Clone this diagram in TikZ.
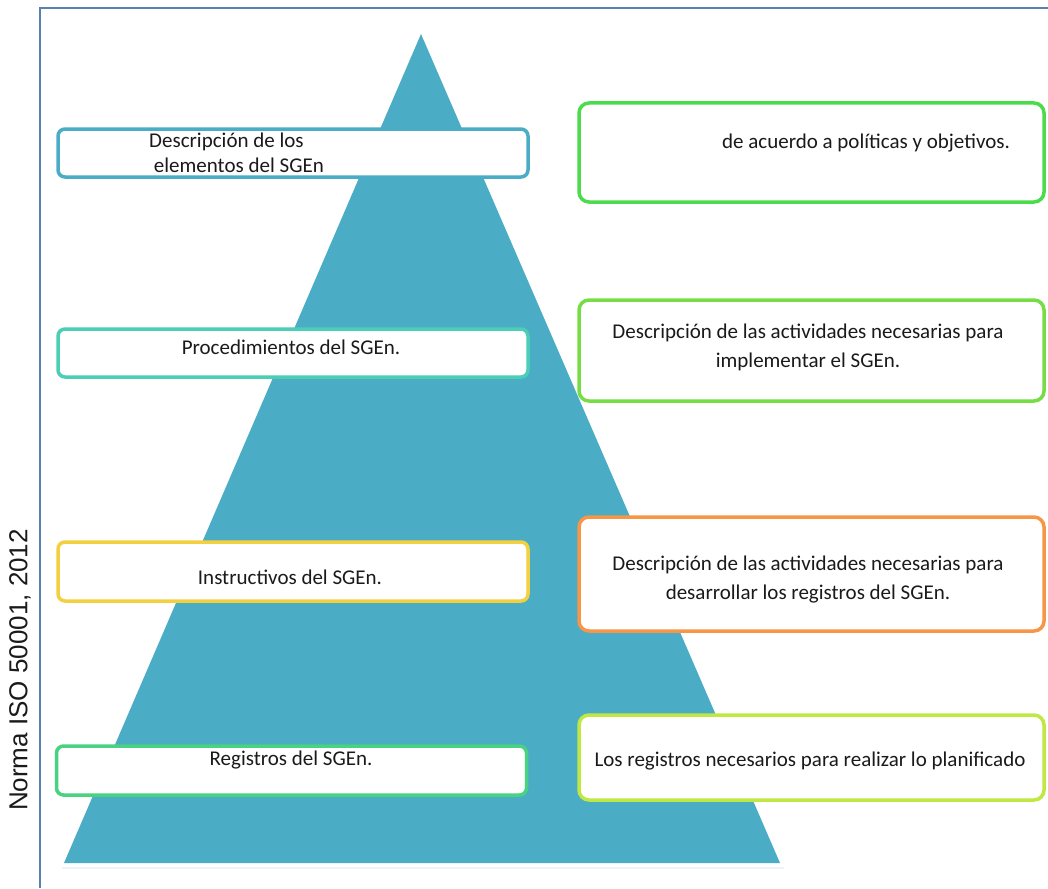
\documentclass[tikz,border=0pt]{standalone}
\usepackage{fontspec}
\setmainfont{Carlito}
\newfontfamily\normafont{Liberation Sans}
\usetikzlibrary{positioning}

\definecolor{triblue}{RGB}{75,172,198}
\definecolor{frameblue}{RGB}{91,127,176}
\definecolor{cBlue}{RGB}{75,172,198}
\definecolor{cTeal}{RGB}{75,205,182}
\definecolor{cYellow}{RGB}{242,208,64}
\definecolor{cGreen}{RGB}{72,210,130}
\definecolor{cGreenA}{RGB}{76,219,76}
\definecolor{cGreenB}{RGB}{119,221,68}
\definecolor{cOrange}{RGB}{247,150,70}
\definecolor{cLime}{RGB}{191,232,67}
\definecolor{txtgray}{RGB}{26,26,26}

\begin{document}
\begin{tikzpicture}[
    x=1pt, y=-1pt,
    lbox/.style={draw, line width=3.5pt, rounded corners=7pt, fill=white, minimum width=470pt, minimum height=48pt, inner sep=0pt},
    rbox/.style={draw, line width=3.5pt, rounded corners=10pt, fill=white, minimum width=465pt, inner sep=0pt},
    txt/.style={text=txtgray, align=center, font=\fontsize{21}{29}\selectfont, inner sep=0pt}
]
    \useasboundingbox (0,0) rectangle (1048,888);

    % frame and pyramid
    \draw[frameblue, line width=1.3pt] (40,888) -- (40,8) -- (1048,8);
    \fill[triblue] (421,34) -- (780,863) -- (64,863) -- cycle;
    \draw[triblue!12, line width=1.5pt] (62,868) -- (784,868);

    % left column
    \node[lbox, draw=cBlue] (elem) at (293,153) {};
    \node[lbox, draw=cTeal] (proc) at (293,353) {};
    \node[lbox, draw=cYellow, minimum height=59pt] (inst) at (293,571.5) {};
    \node[lbox, draw=cGreen, minimum height=49pt] (reg) at (291.5,770.5) {};

    \node[txt, align=left, anchor=west, font=\fontsize{21}{25}\selectfont] (elemtxt) at (149,153) {Descripción de los\\\ elementos del SGEn};
    \node[txt] (proctxt) at (291,347) {Procedimientos del SGEn.};
    \node[txt] (insttxt) at (290,577) {Instructivos del SGEn.};
    \node[txt] (regtxt) at (291,760) {Registros del SGEn.};

    % right column
    \node[rbox, draw=cGreenA, minimum height=99pt] (pol) at (811.5,152.5) {};
    \node[rbox, draw=cGreenB, minimum height=101pt] (impl) at (811.5,350.5) {};
    \node[rbox, draw=cOrange, minimum height=114pt] (desa) at (811.5,574) {};
    \node[rbox, draw=cLime, minimum height=85pt] (plan) at (811.5,757.5) {};

    \node[txt] (poltxt) at (866,143) {de acuerdo a políticas y objetivos.};
    \node[txt] (impltxt) at (808,347) {Descripción de las actividades necesarias para\\implementar el SGEn.};
    \node[txt] (desatxt) at (808,580) {Descripción de las actividades necesarias para\\desarrollar los registros del SGEn.};
    \node[txt] (plantxt) at (810,761) {Los registros necesarios para realizar lo planificado};

    % side label
    \node[text=txtgray, rotate=90, font=\normafont\fontsize{26}{30}\selectfont] (norma) at (20,670) {Norma ISO 50001, 2012};
\end{tikzpicture}
\end{document}
